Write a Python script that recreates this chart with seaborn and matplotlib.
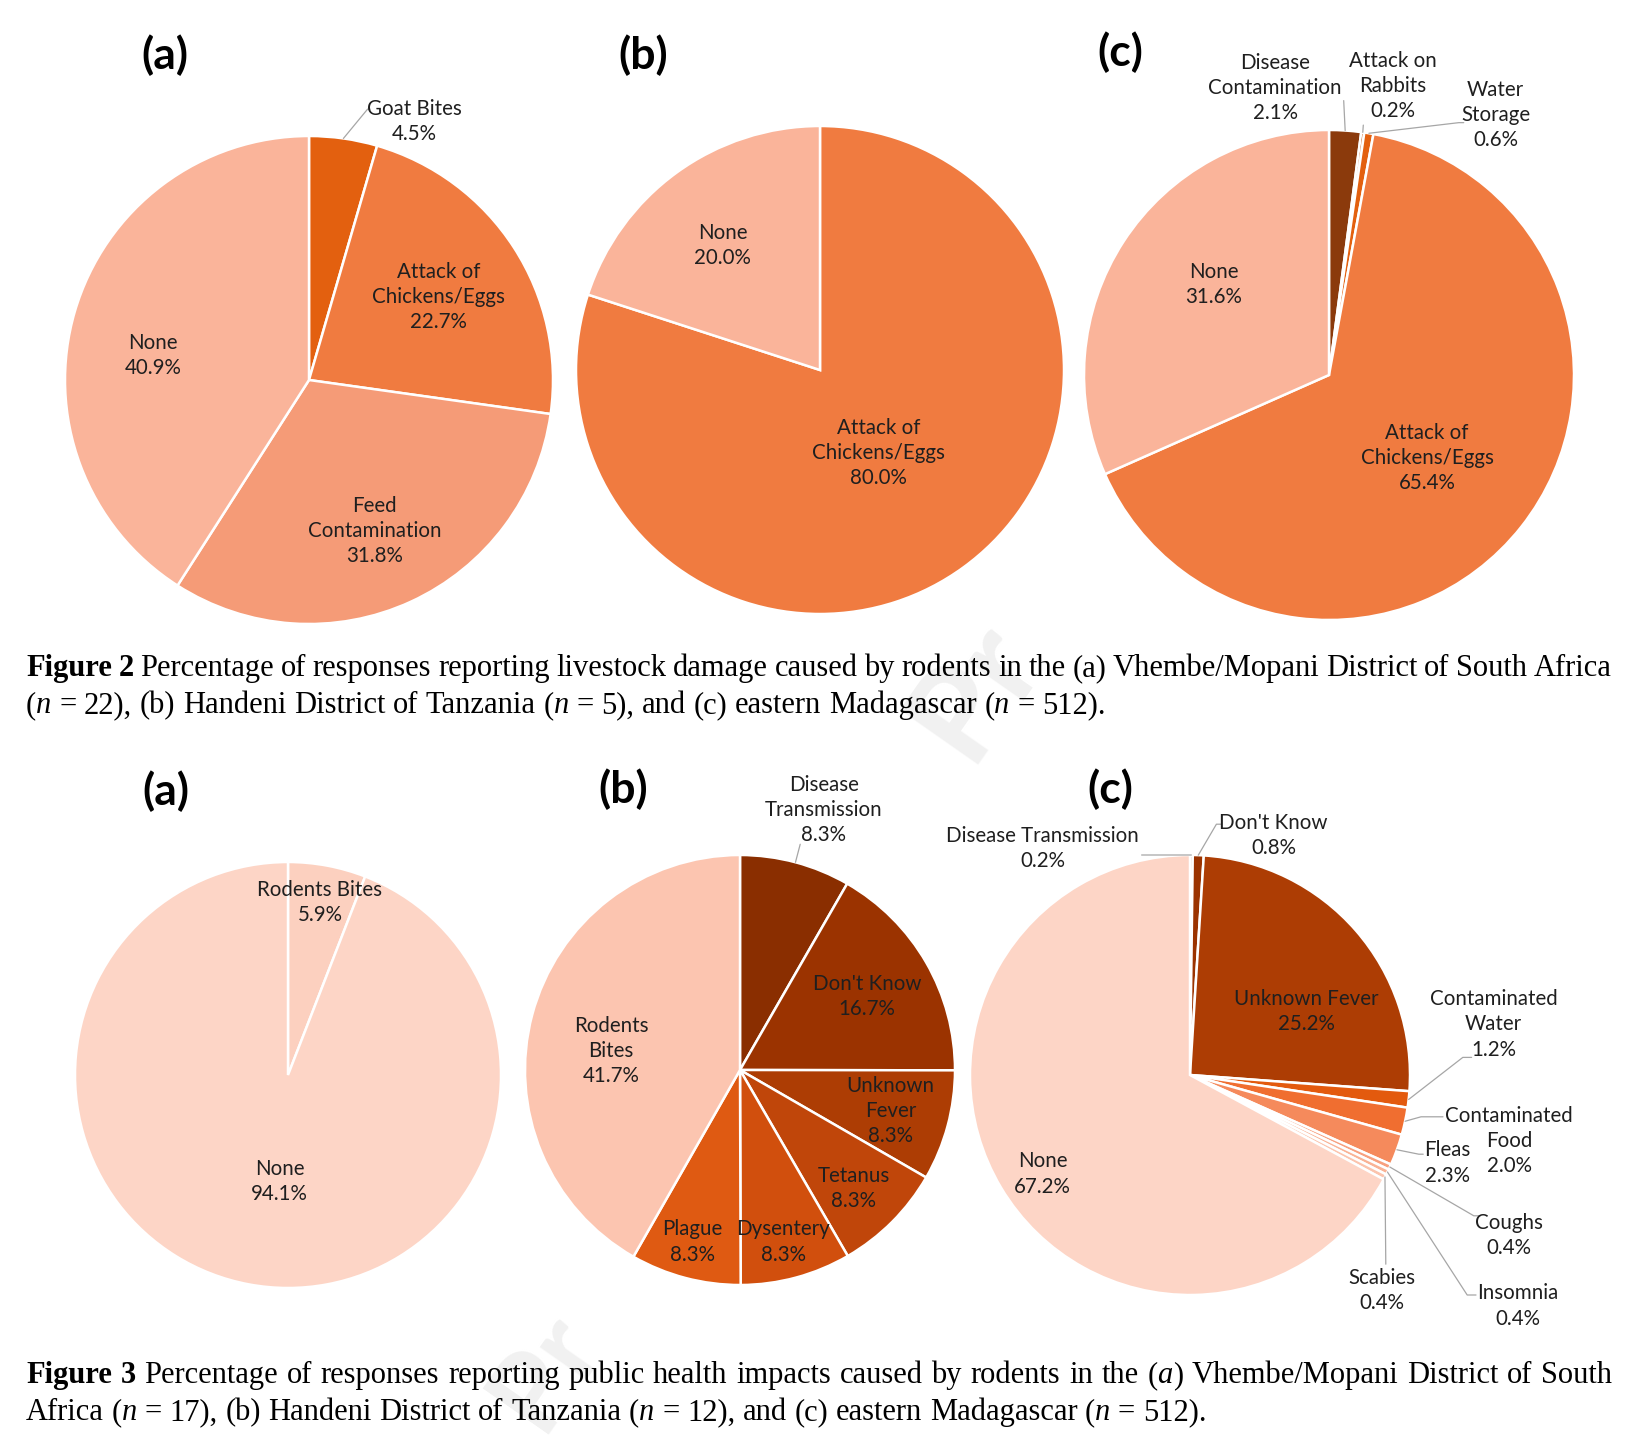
import re

import matplotlib
matplotlib.use("Agg")
import matplotlib.pyplot as plt
import numpy as np
import seaborn as sns

W, H = 1645, 1456

# ---- data: Figure 2 (livestock damage) ----
fig2a_labels = ["Goat Bites", "Attack of\nChickens/Eggs", "Feed\nContamination", "None"]
fig2a_values = [4.5, 22.7, 31.8, 40.9]
fig2a_colors = ["#E3600F", "#F07B40", "#F59B77", "#FAB49A"]

fig2b_labels = ["Attack of\nChickens/Eggs", "None"]
fig2b_values = [80.0, 20.0]
fig2b_colors = ["#F07B40", "#FAB49A"]

fig2c_labels = ["Disease\nContamination", "Attack on\nRabbits", "Water\nStorage",
                "Attack of\nChickens/Eggs", "None"]
fig2c_values = [2.1, 0.2, 0.6, 65.4, 31.6]
fig2c_colors = ["#8B3A0C", "#C04E0A", "#E3600F", "#F07B40", "#FAB49A"]

# ---- data: Figure 3 (public health impacts) ----
fig3a_labels = ["Rodents Bites", "None"]
fig3a_values = [5.9, 94.1]
fig3a_colors = ["#FCD0BF", "#FDD5C6"]

fig3b_labels = ["Disease\nTransmission", "Don't Know", "Unknown\nFever", "Tetanus",
                "Dysentery", "Plague", "Rodents\nBites"]
fig3b_values = [8.3, 16.7, 8.3, 8.3, 8.3, 8.3, 41.7]
fig3b_colors = ["#8A2E00", "#9B3300", "#AD3D04", "#C0460A", "#D14F0D", "#DF5A12", "#FCC5B0"]

fig3c_labels = ["Disease Transmission", "Don't Know", "Unknown Fever", "Contaminated\nWater",
                "Contaminated\nFood", "Fleas", "Coughs", "Insomnia", "Scabies", "None"]
fig3c_values = [0.2, 0.8, 25.2, 1.2, 2.0, 2.3, 0.4, 0.4, 0.4, 67.2]
fig3c_colors = ["#8A2E00", "#9B3300", "#AD3D04", "#E35A0E", "#F06E30", "#F58A5C",
                "#F7A07E", "#F9B395", "#FBC4AD", "#FDD5C6"]

sns.set_theme(style="white")
plt.rcParams["font.family"] = ["Lato", "DejaVu Sans"]

TEXT_COLOR = "#1F1F1F"
LEADER_COLOR = "#A6A6A6"
LABEL_FS = 14.8


def draw_pie(fig, cx, cy, r, values, labels, colors, label_xy, leaders):
    ax = fig.add_axes([(cx - r) / W, (H - cy - r) / H, 2 * r / W, 2 * r / H])
    wedges, _ = ax.pie(values, colors=colors, startangle=90, counterclock=False,
                       wedgeprops=dict(edgecolor="white", linewidth=1.8))
    ax.set_xlim(-1, 1)
    ax.set_ylim(-1, 1)
    ax.set_aspect("equal")
    ax.axis("off")
    for i, (w, lab, v) in enumerate(zip(wedges, labels, values)):
        x, y = label_xy[i]
        ax.text(x, y, f"{lab}\n{v:.1f}%", ha="center", va="center", fontsize=LABEL_FS,
                color=TEXT_COLOR, linespacing=1.32)
        if i in leaders:
            mid = np.deg2rad((w.theta1 + w.theta2) / 2)
            pts = [(np.cos(mid), np.sin(mid))] + leaders[i]
            xs, ys = zip(*pts)
            ax.plot(xs, ys, color=LEADER_COLOR, lw=0.9, clip_on=False)
    return ax


def panel_letter(fig, x, y, s):
    fig.text(x / W, 1 - y / H, s, fontsize=32, fontweight="bold", ha="center",
             va="center", color="black")


def caption_line(fig, renderer, y, line, justify, fs=22):
    x_left, x_right = 26, 1612
    words = []
    for word in line.split(" "):
        parts = []
        width = 0
        for seg in re.split(r"(\^[^^]+\^|_[^_]+_)", word):
            if not seg:
                continue
            weight, style = "normal", "normal"
            if seg.startswith("^"):
                seg, weight = seg[1:-1], "bold"
            elif seg.startswith("_"):
                seg, style = seg[1:-1], "italic"
            t = fig.text(0, 0, seg, fontsize=fs, family="Liberation Serif",
                         fontweight=weight, fontstyle=style, va="baseline", ha="left",
                         color="black")
            parts.append((t, width))
            width += t.get_window_extent(renderer).width
        words.append((parts, width))
    total = sum(w for _, w in words)
    if justify:
        gap = (x_right - x_left - total) / (len(words) - 1)
    else:
        gap = 0.25 * fs * fig.dpi / 72
    x = x_left
    for parts, w in words:
        for t, off in parts:
            t.set_position(((x + off) / W, 1 - y / H))
        x += w + gap


fig = plt.figure(figsize=(W / 100, H / 100), dpi=100)
fig.patch.set_facecolor("white")
renderer = fig.canvas.get_renderer()

# faint watermark fragments
fig.text(975 / W, 1 - 690 / H, "Pr", fontsize=95, color="#F1F1F1", rotation=55,
         ha="center", va="center", fontweight="bold", zorder=0)
fig.text(545 / W, 1 - 1370 / H, "Pr", fontsize=80, color="#F1F1F1", rotation=55,
         ha="center", va="center", fontweight="bold", zorder=0)

# ---- Figure 2 ----
panel_letter(fig, 165, 55, "(a)")
panel_letter(fig, 643, 55, "(b)")
panel_letter(fig, 1120, 52, "(c)")

draw_pie(fig, 309, 380, 244, fig2a_values, fig2a_labels, fig2a_colors,
         [(0.43, 1.06), (0.53, 0.34), (0.27, -0.62), (-0.64, 0.10)],
         {0: [(0.24, 1.11), (0.25, 1.11)]})
draw_pie(fig, 820, 370, 244, fig2b_values, fig2b_labels, fig2b_colors,
         [(0.24, -0.34), (-0.40, 0.51)], {})
draw_pie(fig, 1329, 375, 245, fig2c_values, fig2c_labels, fig2c_colors,
         [(-0.22, 1.17), (0.26, 1.18), (0.68, 1.06), (0.40, -0.34), (-0.47, 0.37)],
         {0: [(0.06, 1.12)], 1: [(0.14, 1.02)], 2: [(0.53, 1.03), (0.55, 1.03)]})

caption_line(fig, renderer, 676, "^Figure^ ^2^ Percentage of responses reporting livestock damage "
             "caused by rodents in the (a) Vhembe/Mopani District of South Africa", True)
caption_line(fig, renderer, 713, "(_n_ = 22), (b) Handeni District of Tanzania (_n_ = 5), "
             "and (c) eastern Madagascar (_n_ = 512).", False)

# ---- Figure 3 ----
panel_letter(fig, 166, 791, "(a)")
panel_letter(fig, 623, 789, "(b)")
panel_letter(fig, 1110, 789, "(c)")

draw_pie(fig, 288, 1075, 213, fig3a_values, fig3a_labels, fig3a_colors,
         [(0.15, 0.81), (-0.04, -0.50)], {})
draw_pie(fig, 740, 1070, 215, fig3b_values, fig3b_labels, fig3b_colors,
         [(0.39, 1.21), (0.59, 0.34), (0.70, -0.19), (0.53, -0.55), (0.20, -0.80),
          (-0.22, -0.80), (-0.60, 0.09)],
         {0: [(0.28, 1.05)]})
draw_pie(fig, 1190, 1075, 220, fig3c_values, fig3c_labels, fig3c_colors,
         [(-0.67, 1.03), (0.38, 1.09), (0.53, 0.29), (1.38, 0.23), (1.45, -0.30),
          (1.17, -0.40), (1.45, -0.73), (1.49, -1.05), (0.87, -0.98), (-0.67, -0.45)],
         {0: [(-0.22, 1.0)], 1: [(0.12, 1.14), (0.14, 1.14)],
          3: [(1.24, 0.08), (1.28, 0.08)], 4: [(1.05, -0.19), (1.15, -0.19)],
          5: [(1.04, -0.36), (1.06, -0.36)], 6: [(1.29, -0.64), (1.32, -0.64)],
          7: [(1.26, -1.00), (1.30, -1.00)], 8: [(0.89, -0.86)]})

caption_line(fig, renderer, 1383, "^Figure^ ^3^ Percentage of responses reporting public health "
             "impacts caused by rodents in the (_a_) Vhembe/Mopani District of South", True)
caption_line(fig, renderer, 1420, "Africa (_n_ = 17), (b) Handeni District of Tanzania (_n_ = 12), "
             "and (c) eastern Madagascar (_n_ = 512).", False)

fig.savefig("out.png", dpi=100, facecolor="white")
